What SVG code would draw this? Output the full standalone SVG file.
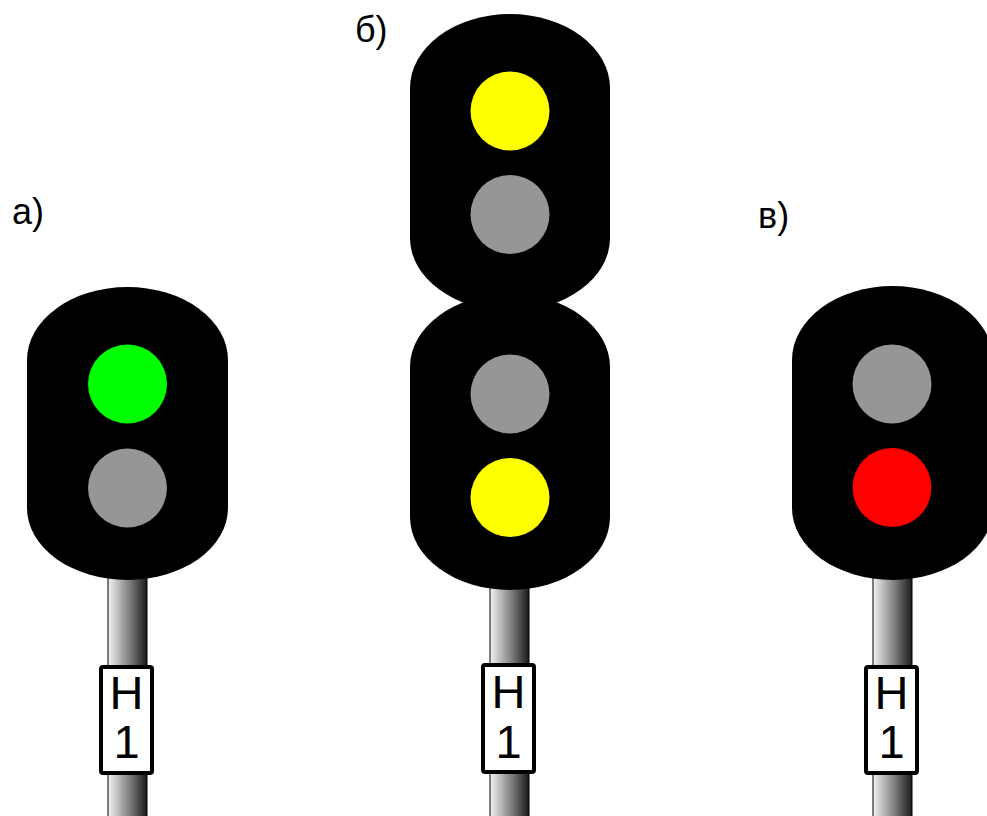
<svg xmlns="http://www.w3.org/2000/svg" width="987" height="816" viewBox="0 0 987 816">
<defs>
<linearGradient id="pole" x1="0" y1="0" x2="1" y2="0">
<stop offset="0" stop-color="#f2f2f2"/>
<stop offset="0.5" stop-color="#8a8a8a"/>
<stop offset="1" stop-color="#1a1a1a"/>
</linearGradient>
</defs>
<style>
.head{fill:#000}
.pole{fill:url(#pole);stroke:#000;stroke-width:1}
.plate{fill:#fff;stroke:#000;stroke-width:4}
.pt{font-family:"Liberation Sans",Arial,sans-serif;font-size:47px;fill:#000;text-anchor:middle}
.lbl{font-family:"Liberation Sans",Arial,sans-serif;font-size:36px;fill:#000}
.green{fill:#00ff00}
.gray{fill:#969696}
.yellow{fill:#ffff00}
.red{fill:#ff0000}
</style>
<rect width="987" height="816" fill="#fff"/>
<g id="signal-a">
<rect class="pole" x="108" y="560" width="39" height="260"/>
<path class="head" d="M27,360 A100.5,73 0 0 1 228,360 L228,508 A100.5,72 0 0 1 27,508 Z"/>
<circle class="green" cx="127.5" cy="384" r="39.5"/>
<circle class="gray" cx="127.5" cy="488" r="39.5"/>
<rect class="plate" x="101" y="667" width="51" height="106" rx="2"/>
<text class="pt" x="126.5" y="709">Н</text>
<text class="pt" x="126.5" y="758">1</text>
<text class="lbl" x="12" y="224">а)</text>
</g>
<g id="signal-b">
<rect class="pole" x="490" y="570" width="39" height="250"/>
<path class="head" d="M410,88 A100,74 0 0 1 610,88 L610,238 A100,73 0 0 1 410,238 Z"/>
<path class="head" d="M410,367 A100,73 0 0 1 610,367 L610,517 A100,73 0 0 1 410,517 Z"/>
<circle class="yellow" cx="510" cy="111" r="39.5"/>
<circle class="gray" cx="510" cy="214.5" r="39.5"/>
<circle class="gray" cx="510" cy="394" r="39.5"/>
<circle class="yellow" cx="510" cy="497.5" r="39.5"/>
<rect class="plate" x="483" y="665" width="51" height="107" rx="2"/>
<text class="pt" x="508.5" y="708">Н</text>
<text class="pt" x="508.5" y="758">1</text>
<text class="lbl" x="355" y="42">б)</text>
</g>
<g id="signal-c">
<rect class="pole" x="873" y="560" width="39" height="260"/>
<path class="head" d="M792,360 A100.5,74 0 0 1 993,360 L993,508 A100.5,72 0 0 1 792,508 Z"/>
<circle class="gray" cx="892" cy="384" r="39.5"/>
<circle class="red" cx="892" cy="487.5" r="39.5"/>
<rect class="plate" x="866" y="667" width="51" height="106" rx="2"/>
<text class="pt" x="891.5" y="709">Н</text>
<text class="pt" x="891.5" y="758">1</text>
<text class="lbl" x="758" y="228">в)</text>
</g>
<g id="connectors"/>
</svg>
